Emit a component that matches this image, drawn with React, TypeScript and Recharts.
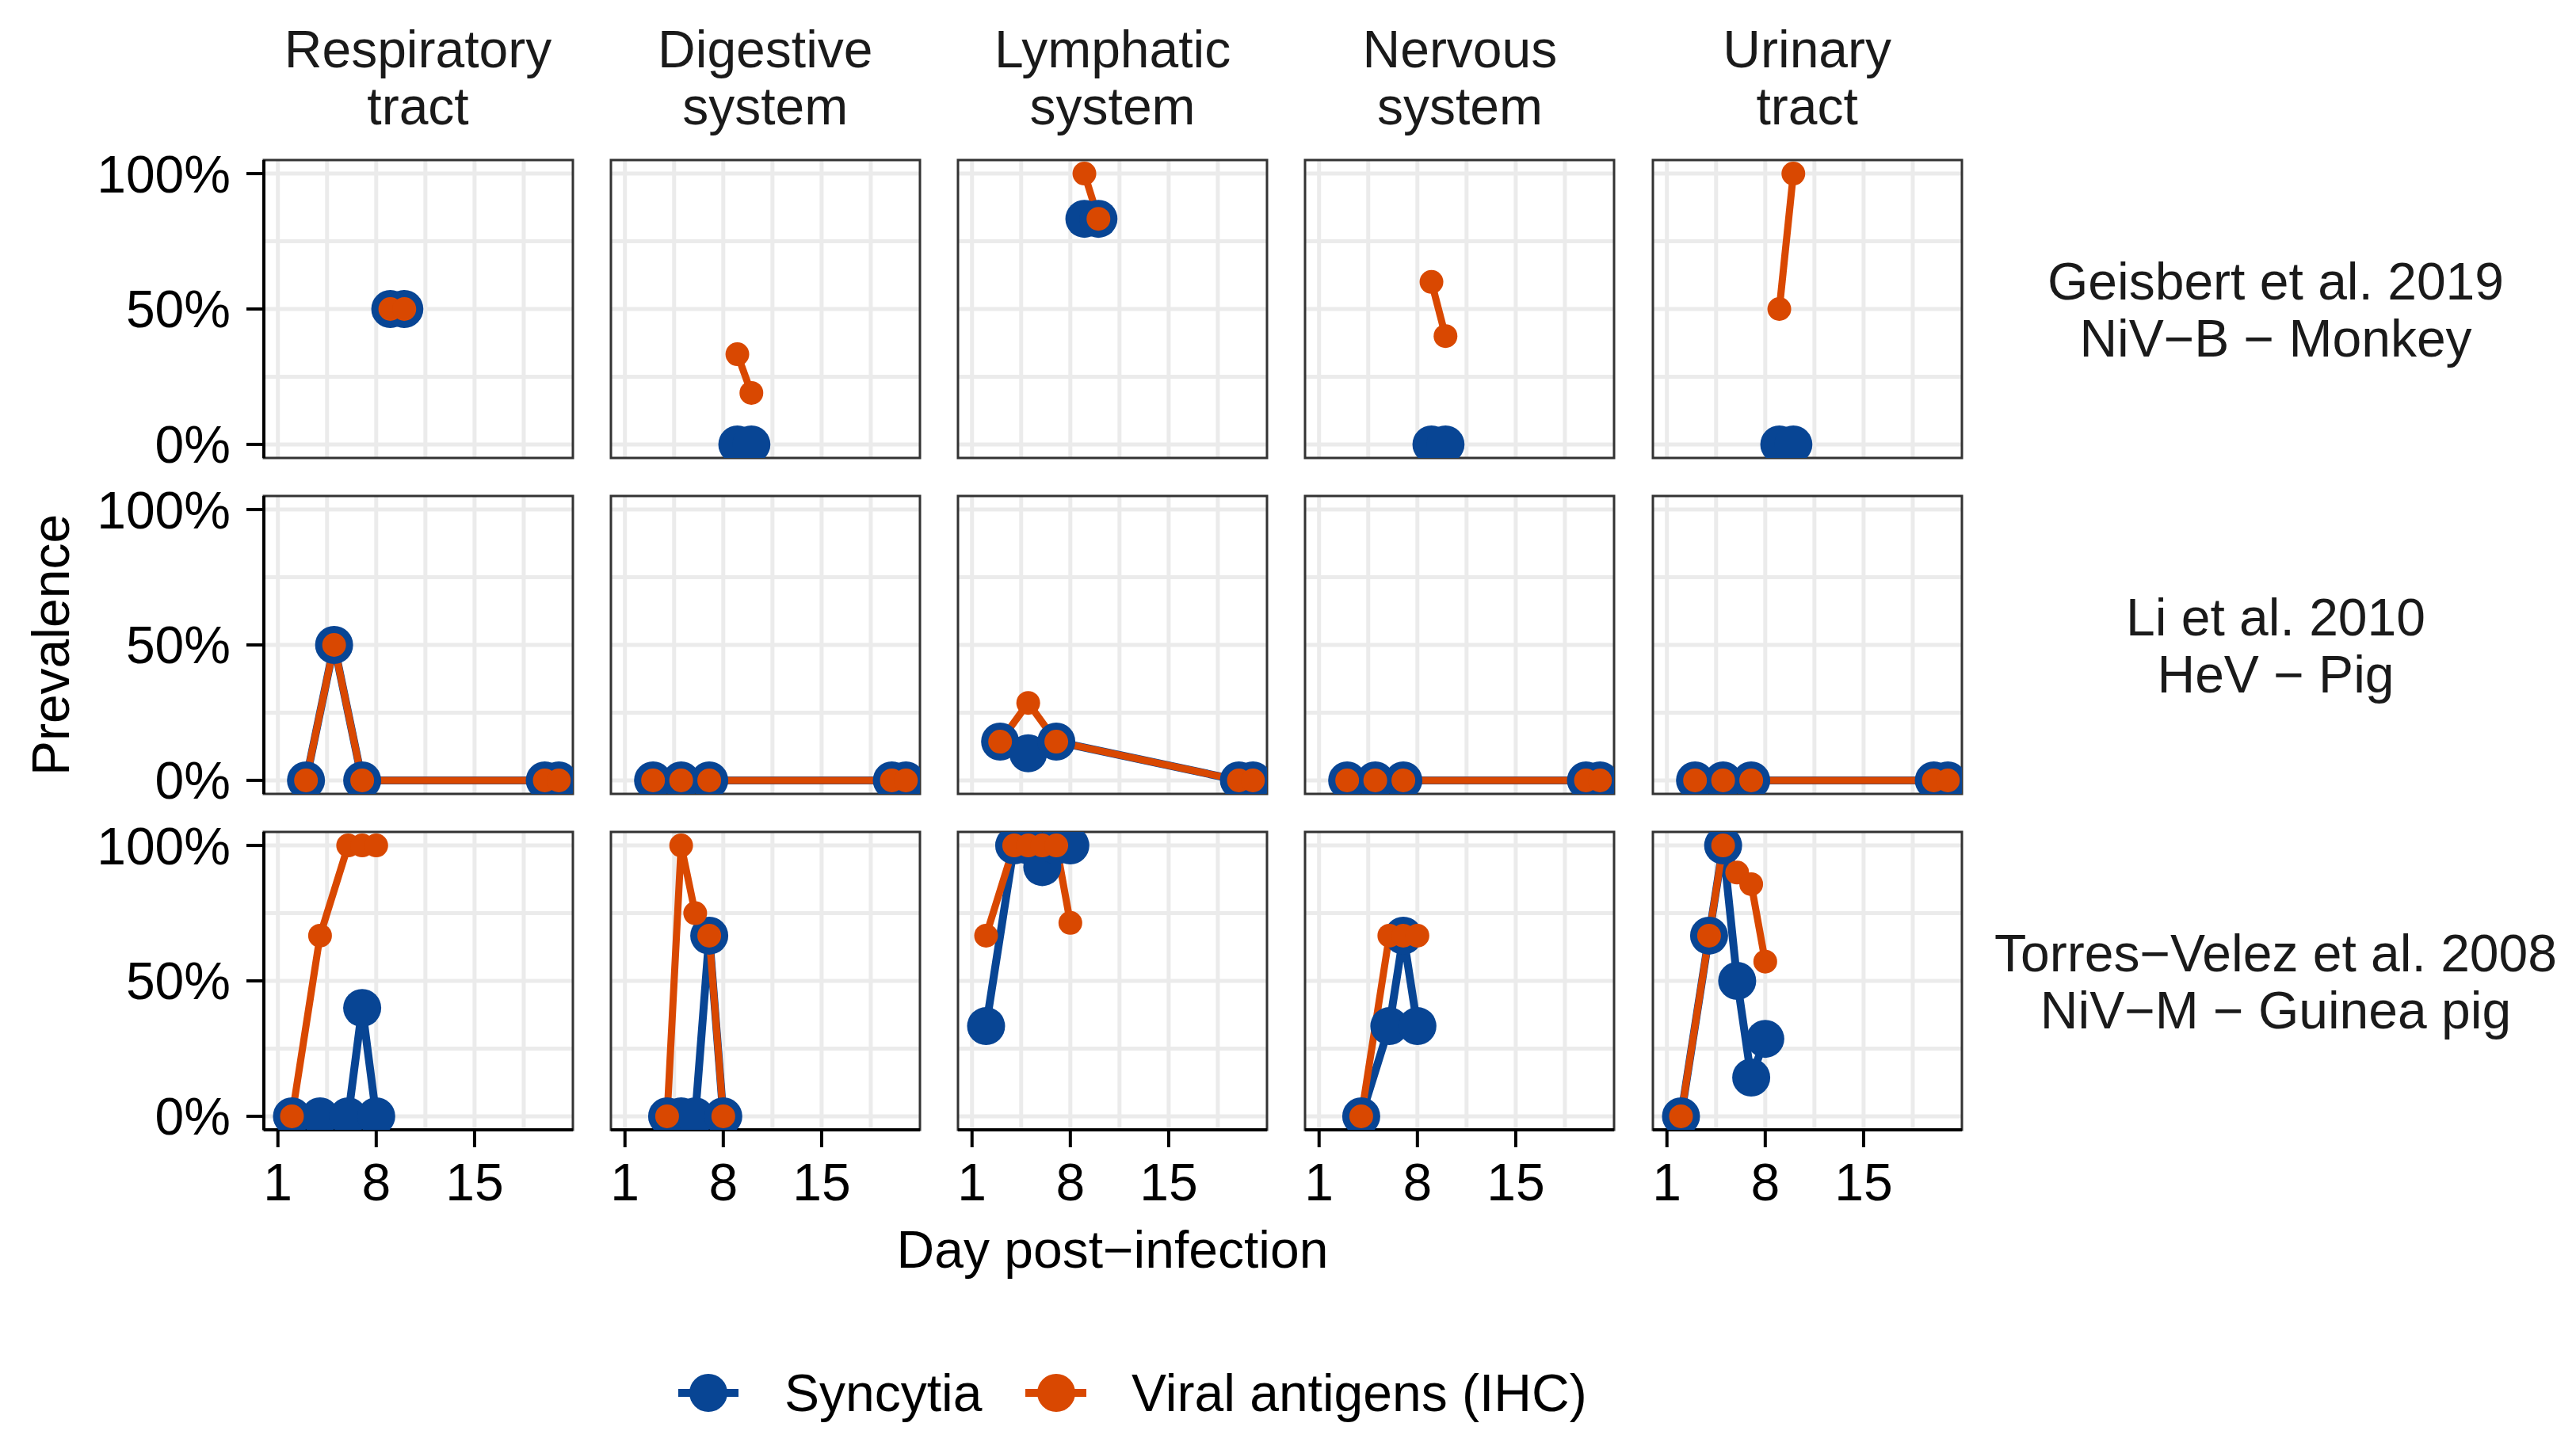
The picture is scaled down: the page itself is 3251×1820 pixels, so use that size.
import React from 'react';
import { LineChart, Line, XAxis, YAxis, CartesianGrid, ReferenceArea } from 'recharts';

const FONT = '"Liberation Sans", Arial, Helvetica, sans-serif';
const BLUE = '#084594';
const ORANGE = '#D94801';

// ---- labels ----
const organs = [
  ['Respiratory', 'tract'],
  ['Digestive', 'system'],
  ['Lymphatic', 'system'],
  ['Nervous', 'system'],
  ['Urinary', 'tract'],
];
const studies = [
  ['Geisbert et al. 2019', 'NiV\u2212B \u2212 Monkey'],
  ['Li et al. 2010', 'HeV \u2212 Pig'],
  ['Torres\u2212Velez et al. 2008', 'NiV\u2212M \u2212 Guinea pig'],
];
const seriesNames = ['Syncytia', 'Viral antigens (IHC)'];
const xTitle = 'Day post\u2212infection';
const yTitle = 'Prevalence';

// ---- axes ----
const xDomain = [0, 22];
const yDomain = [-0.05, 1.05];
const xTicks = [1, 8, 15];
const xGrid = [1, 4.5, 8, 11.5, 15, 18.5];
const yTicks = [0, 0.5, 1];
const yGrid = [0, 0.25, 0.5, 0.75, 1];

// ---- Geisbert et al. 2019 (per organ) ----
const geisbertDays = [[9, 10], [9, 10], [9, 10], [9, 10], [9, 10]];
const geisbertSyncytia = [[0.5, 0.5], [0, 0], [0.833, 0.833], [0, 0], [0, 0]];
const geisbertViral = [[0.5, 0.5], [0.333, 0.19], [1, 0.833], [0.6, 0.4], [0.5, 1]];

// ---- Li et al. 2010 ----
const liDays = [[3, 5, 7, 20, 21], [3, 5, 7, 20, 21], [3, 5, 7, 20, 21], [3, 5, 7, 20, 21], [3, 5, 7, 20, 21]];
const liSyncytia = [[0, 0.5, 0, 0, 0], [0, 0, 0, 0, 0], [0.143, 0.1, 0.143, 0, 0], [0, 0, 0, 0, 0], [0, 0, 0, 0, 0]];
const liViral = [[0, 0.5, 0, 0, 0], [0, 0, 0, 0, 0], [0.143, 0.286, 0.143, 0, 0], [0, 0, 0, 0, 0], [0, 0, 0, 0, 0]];

// ---- Torres-Velez et al. 2008 ----
const torresDays = [[2, 4, 6, 7, 8], [4, 5, 6, 7, 8], [2, 4, 5, 6, 7, 8], [4, 6, 7, 8], [2, 4, 5, 6, 7, 8]];
const torresSyncytia = [[0, 0, 0, 0.4, 0], [0, 0, 0, 0.667, 0], [0.333, 1, 1, 0.92, 1, 1], [0, 0.333, 0.667, 0.333], [0, 0.667, 1, 0.5, 0.143, 0.286]];
const torresViral = [[0, 0.667, 1, 1, 1], [0, 1, 0.75, 0.667, 0], [0.667, 1, 1, 1, 1, 0.714], [0, 0.667, 0.667, 0.667], [0, 0.667, 1, 0.9, 0.857, 0.571]];

const studyDays = [geisbertDays, liDays, torresDays];
const studySyncytia = [geisbertSyncytia, liSyncytia, torresSyncytia];
const studyViral = [geisbertViral, liViral, torresViral];

// ---- layout ----
const PANEL_W = 390;
const PANEL_H = 376;
const PANEL_LEFT0 = 332.5;
const PANEL_STEP_X = 438.3;
const PANEL_TOP0 = 202;
const PANEL_STEP_Y = 424;
const YW = 280;
const XH = 150;
const M = 40;
const FS = 66;

const toSeries = (days: number[], vals: number[]) => days.map((d, i) => ({ day: d, v: vals[i] }));
const pct = (v: number) => `${Math.round(v * 100)}%`;

function Panel({ row, col }: { row: number; col: number }) {
  const showY = col === 0;
  const showX = row === 2;
  const pl = PANEL_LEFT0 + col * PANEL_STEP_X;
  const pt = PANEL_TOP0 + row * PANEL_STEP_Y;
  const w = PANEL_W + 2 * M + (showY ? YW : 0);
  const h = PANEL_H + 2 * M + (showX ? XH : 0);
  const left = pl - M - (showY ? YW : 0);
  const top = pt - M;
  const days = studyDays[row][col];
  const syn = toSeries(days, studySyncytia[row][col]);
  const vir = toSeries(days, studyViral[row][col]);
  const tickStyle = { fontSize: FS, fill: '#000', fontFamily: FONT };
  return (
    <div style={{ position: 'absolute', left, top, width: w, height: h }}>
      <LineChart width={w} height={h} margin={{ top: M, right: M, bottom: M, left: M }}>
        <CartesianGrid
          verticalValues={xGrid}
          horizontalValues={yGrid}
          stroke="#EBEBEB"
          strokeWidth={5}
        />
        <XAxis
          type="number"
          dataKey="day"
          domain={xDomain}
          ticks={xTicks}
          allowDataOverflow
          hide={!showX}
          height={XH}
          interval={0}
          tickSize={22}
          tickMargin={20}
          axisLine={{ stroke: '#000', strokeWidth: 4 }}
          tickLine={{ stroke: '#000', strokeWidth: 4 }}
          tick={tickStyle}
        />
        <YAxis
          type="number"
          domain={yDomain}
          ticks={yTicks}
          allowDataOverflow
          hide={!showY}
          width={YW}
          interval={0}
          tickSize={22}
          tickMargin={20}
          tickFormatter={pct}
          axisLine={{ stroke: '#000', strokeWidth: 4 }}
          tickLine={{ stroke: '#000', strokeWidth: 4 }}
          tick={tickStyle}
        />
        <Line
          data={syn}
          dataKey="v"
          name={seriesNames[0]}
          type="linear"
          stroke={BLUE}
          strokeWidth={10}
          dot={{ r: 24, fill: BLUE, stroke: BLUE, strokeWidth: 0 }}
          activeDot={false}
          isAnimationActive={false}
        />
        <Line
          data={vir}
          dataKey="v"
          name={seriesNames[1]}
          type="linear"
          stroke={ORANGE}
          strokeWidth={9}
          dot={{ r: 15, fill: ORANGE, stroke: ORANGE, strokeWidth: 0 }}
          activeDot={false}
          isAnimationActive={false}
        />
        <ReferenceArea
          x1={xDomain[0]}
          x2={xDomain[1]}
          y1={yDomain[0]}
          y2={yDomain[1]}
          fill="none"
          fillOpacity={0}
          stroke="#333333"
          strokeWidth={3}
          ifOverflow="visible"
        />
      </LineChart>
    </div>
  );
}

export default function App() {
  const panels = [];
  for (let r = 0; r < 3; r++) {
    for (let c = 0; c < 5; c++) {
      panels.push(<Panel key={`${r}-${c}`} row={r} col={c} />);
    }
  }
  const textCommon = { fontFamily: FONT, fontSize: FS };
  return (
    <div style={{ position: 'absolute', left: 0, top: 0, width: 3251, height: 1820, background: '#fff', overflow: 'hidden' }}>
      {panels}
      <svg width={3251} height={1820} style={{ position: 'absolute', left: 0, top: 0, pointerEvents: 'none' }}>
        {organs.map((lines, c) => {
          const cx = PANEL_LEFT0 + c * PANEL_STEP_X + PANEL_W / 2;
          return (
            <g key={`o${c}`}>
              <text x={cx} y={85} textAnchor="middle" fill="#1A1A1A" {...textCommon}>{lines[0]}</text>
              <text x={cx} y={157} textAnchor="middle" fill="#1A1A1A" {...textCommon}>{lines[1]}</text>
            </g>
          );
        })}
        {studies.map((lines, r) => {
          const cy = PANEL_TOP0 + r * PANEL_STEP_Y + PANEL_H / 2;
          return (
            <g key={`s${r}`}>
              <text x={2872} y={cy - 12.5} textAnchor="middle" fill="#1A1A1A" {...textCommon}>{lines[0]}</text>
              <text x={2872} y={cy + 59.5} textAnchor="middle" fill="#1A1A1A" {...textCommon}>{lines[1]}</text>
            </g>
          );
        })}
        <text x={1404} y={1600} textAnchor="middle" fill="#000" {...textCommon}>{xTitle}</text>
        <text
          x={0}
          y={0}
          transform={`translate(87, ${PANEL_TOP0 + PANEL_STEP_Y + PANEL_H / 2}) rotate(-90)`}
          textAnchor="middle"
          fill="#000"
          {...textCommon}
        >
          {yTitle}
        </text>
        {/* legend */}
        <g>
          <line x1={856} x2={932} y1={1758} y2={1758} stroke={BLUE} strokeWidth={10} />
          <circle cx={894} cy={1758} r={24} fill={BLUE} />
          <text x={990} y={1781} fill="#000" {...textCommon}>{seriesNames[0]}</text>
          <line x1={1294} x2={1371} y1={1758} y2={1758} stroke={ORANGE} strokeWidth={10} />
          <circle cx={1333} cy={1758} r={24} fill={ORANGE} />
          <text x={1428} y={1781} fill="#000" {...textCommon}>{seriesNames[1]}</text>
        </g>
      </svg>
    </div>
  );
}
